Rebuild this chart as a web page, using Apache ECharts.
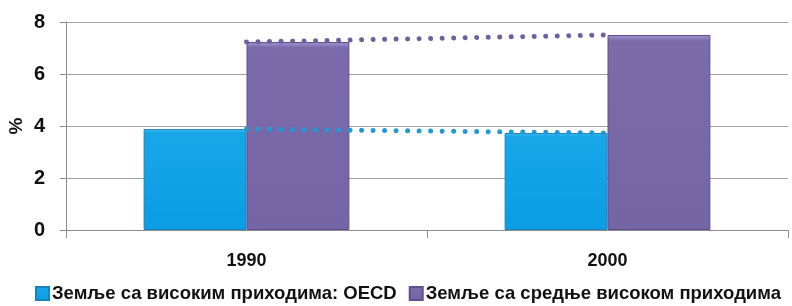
<!DOCTYPE html>
<html>
<head>
<meta charset="utf-8">
<script src="https://cdn.jsdelivr.net/npm/echarts@6/dist/echarts.min.js"></script>
<style>
  html, body { margin: 0; padding: 0; background: #fff; }
  #chart { width: 792px; height: 306px; }
</style>
</head>
<body>
<div id="chart"></div>
<script>
var years = ['1990', '2000'];
var seriesNames = ['Земље са високим приходима: OECD', 'Земље са средње високом приходима'];
var highIncome = [3.88, 3.73];
var upperMiddle = [7.23, 7.5];
var yTicks = [0, 2, 4, 6, 8];

var blue = '#0a9de4';
var purple = '#7565a5';
var font = '"Liberation Sans", Arial, sans-serif';

var chart = echarts.init(document.getElementById('chart'));
chart.setOption({
  animation: false,
  grid: { left: 66, right: 4, top: 22, bottom: 76, outerBoundsMode: 'none', containLabel: false },
  legend: {
    bottom: -2,
    left: 30,
    data: seriesNames,
    icon: 'rect',
    itemWidth: 13,
    itemHeight: 13,
    itemGap: 12,
    textStyle: { fontFamily: font, fontWeight: 'bold', fontSize: 18.5, color: '#111', padding: [0, 0, 0, -2] }
  },
  xAxis: {
    type: 'category',
    data: years,
    axisLine: { lineStyle: { color: '#8c8c8c', width: 1 } },
    axisTick: { show: true, length: 8, lineStyle: { color: '#8c8c8c' } },
    axisLabel: { margin: 22, fontFamily: font, fontWeight: 'bold', fontSize: 18, color: '#111' }
  },
  yAxis: {
    type: 'value',
    min: yTicks[0],
    max: yTicks[yTicks.length - 1],
    interval: yTicks[1] - yTicks[0],
    name: '%',
    nameLocation: 'middle',
    nameRotate: 90,
    nameGap: 40,
    nameMoveOverlap: false,
    nameTextStyle: { fontFamily: font, fontWeight: 'bold', fontSize: 19, color: '#111' },
    axisLine: { show: true, lineStyle: { color: '#8c8c8c', width: 1 } },
    axisTick: { show: true, length: 6, lineStyle: { color: '#8c8c8c' } },
    splitLine: { lineStyle: { color: '#a0a0a0', width: 1 } },
    axisLabel: { margin: 21, fontFamily: font, fontWeight: 'bold', fontSize: 20, color: '#111' }
  },
  series: [
    {
      name: seriesNames[0],
      type: 'bar',
      data: highIncome,
      barGap: '0%',
      barCategoryGap: '43%',
      itemStyle: {
        color: new echarts.graphic.LinearGradient(0, 0, 0, 1, [
          { offset: 0, color: '#5cc6f3' },
          { offset: 0.03, color: '#18a6e8' },
          { offset: 1, color: blue }
        ]),
        borderColor: '#1783bd',
        borderWidth: 1
      }
    },
    {
      name: seriesNames[1],
      type: 'bar',
      data: upperMiddle,
      itemStyle: {
        color: new echarts.graphic.LinearGradient(0, 0, 0, 1, [
          { offset: 0, color: '#a596d2' },
          { offset: 0.03, color: '#7b6bab' },
          { offset: 1, color: purple }
        ]),
        borderColor: '#5e4f8e',
        borderWidth: 1
      }
    },
    {
      name: 'trend1',
      type: 'line',
      data: highIncome,
      symbol: 'none',
      z: 5,
      lineStyle: { color: '#2199d4', width: 5, type: [0.01, 11.5], cap: 'round' }
    },
    {
      name: 'trend2',
      type: 'line',
      data: upperMiddle,
      symbol: 'none',
      z: 5,
      lineStyle: { color: '#6e5f9f', width: 5, type: [0.01, 11.5], cap: 'round' }
    }
  ]
});
</script>
</body>
</html>
